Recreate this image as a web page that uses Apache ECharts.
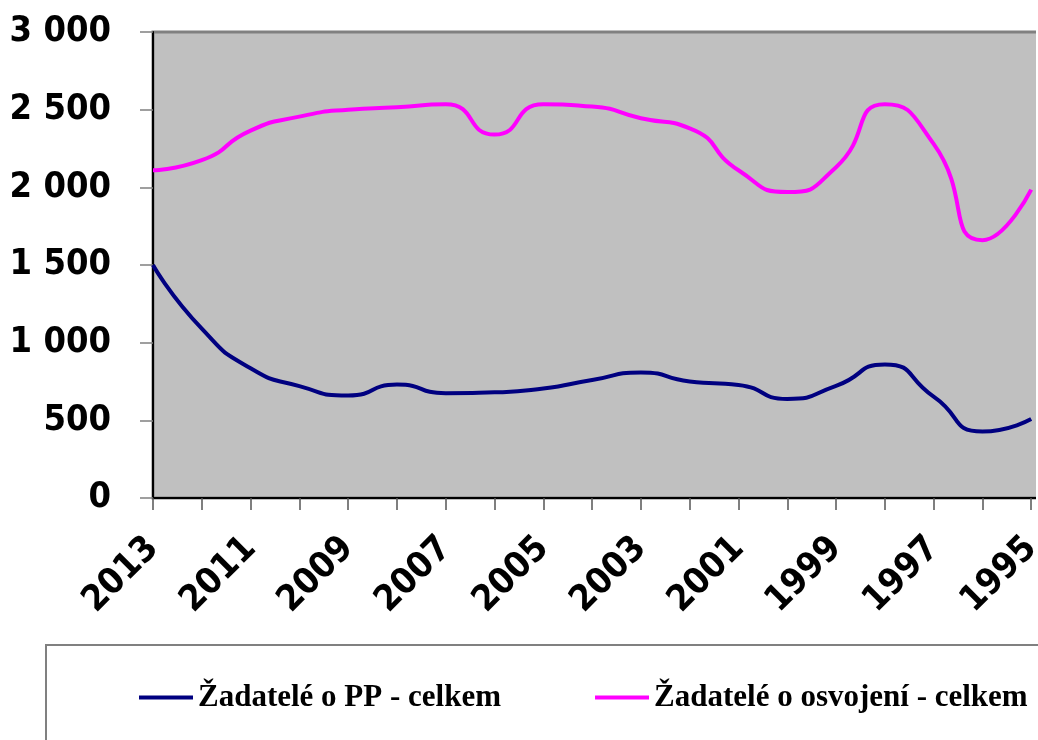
<!DOCTYPE html>
<html>
<head>
<meta charset="utf-8">
<script src="https://cdn.jsdelivr.net/npm/echarts@6/dist/echarts.min.js"></script>
<style>
html,body{margin:0;padding:0;background:#fff;}
#chart{width:1038px;height:740px;}
</style>
</head>
<body>
<div id="chart"></div>
<script>
// Categories (x axis) — the plot is cropped just after 1995 in the reference
const years = ['2013','2012','2011','2010','2009','2008','2007','2006','2005','2004','2003','2002','2001','2000','1999','1998','1997','1996','1995','1994'];
// Žadatelé o PP - celkem
const zadatelePP = [1500,1090,835,720,660,730,675,680,705,760,808,750,728,638,722,860,653,428,508,null];
// Žadatelé o osvojení - celkem
const zadateleOsvojeni = [2110,2175,2365,2455,2500,2515,2535,2340,2535,2520,2445,2380,2110,1970,2130,2535,2280,1660,1985,null];
// Y tick labels
const yTickLabels = ['0','500','1 000','1 500','2 000','2 500','3 000'];
const seriesNames = ['Žadatelé o PP - celkem','Žadatelé o osvojení - celkem'];

const chart = echarts.init(document.getElementById('chart'), null, {renderer:'canvas'});
const labelFont = '"DejaVu Sans Condensed","DejaVu Sans",sans-serif';
chart.setOption({
  animation:false,
  backgroundColor:'#ffffff',
  graphic:[
    {type:'rect', z:0, shape:{x:46,y:645,width:1100,height:200}, style:{fill:'#ffffff', stroke:'#808080', lineWidth:2}},
    {type:'rect', z:100, shape:{x:1036,y:0,width:10,height:520}, style:{fill:'#ffffff'}}
  ],
  grid:{left:153, top:32, width:927, height:466, outerBoundsMode:'none', containLabel:false,
        show:true, backgroundColor:'#C0C0C0', borderColor:'#808080', borderWidth:3},
  legend:{
    data:seriesNames,
    left:139, top:682, padding:0,
    icon:'rect', itemWidth:54, itemHeight:4, itemGap:94,
    textStyle:{fontFamily:'"Liberation Serif","Times New Roman",serif', fontWeight:'bold', fontSize:31, color:'#000'}
  },
  xAxis:{
    type:'category', data:years, boundaryGap:false,
    axisLine:{show:true, lineStyle:{color:'#000', width:2}},
    axisTick:{show:true, interval:0, length:12, lineStyle:{color:'#555', width:1.5}},
    axisLabel:{interval:1, rotate:45, margin:45, fontFamily:labelFont, fontWeight:'bold', fontSize:36, color:'#000'},
    splitLine:{show:false}
  },
  yAxis:{
    type:'value', min:0, max:3000, interval:500,
    axisLine:{show:true, lineStyle:{color:'#000', width:2}},
    axisTick:{show:true, length:13, lineStyle:{color:'#808080', width:1.5}},
    axisLabel:{margin:42, fontFamily:labelFont, fontWeight:'bold', fontSize:36, color:'#000',
      formatter:function(v){ return yTickLabels[Math.round(v/500)]; }},
    splitLine:{show:false}
  },
  series:[
    {name:seriesNames[0], type:'line', data:zadatelePP, smooth:0.6, symbol:'none', color:'#000080', lineStyle:{color:'#000080', width:4}},
    {name:seriesNames[1], type:'line', data:zadateleOsvojeni, smooth:0.6, symbol:'none', color:'#FF00FF', lineStyle:{color:'#FF00FF', width:4}}
  ]
});
</script>
</body>
</html>
